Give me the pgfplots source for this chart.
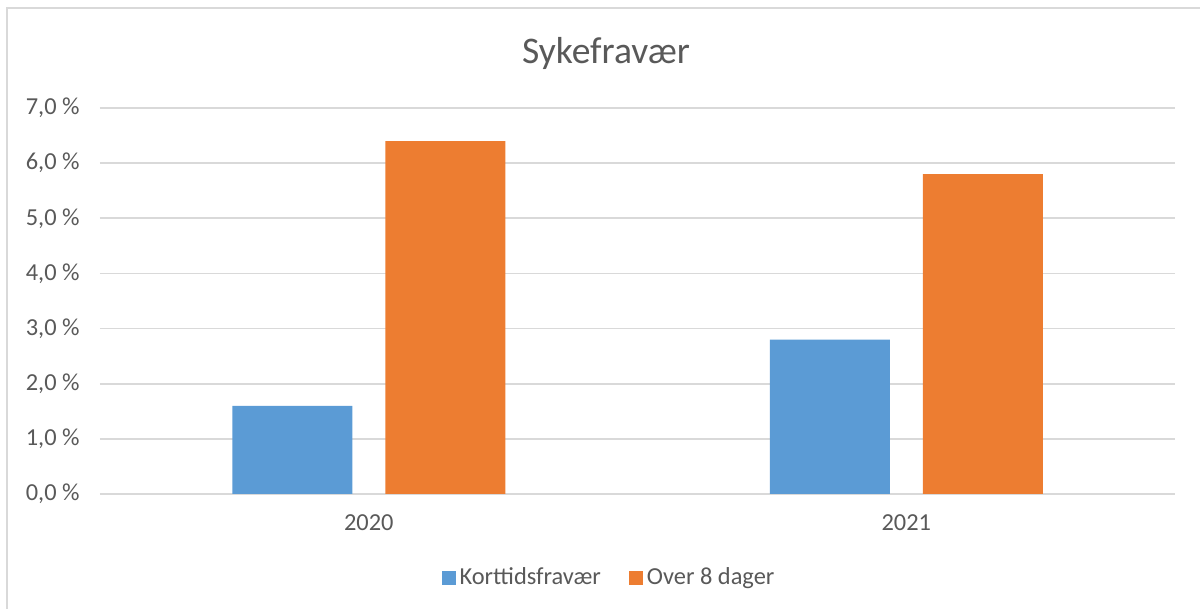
\documentclass[border=0pt]{standalone}
\usepackage{pgfplots}
\pgfplotsset{compat=1.18}
\usepackage{fontspec}
\setmainfont{Carlito}
\definecolor{txt}{HTML}{595959}
\definecolor{gridc}{HTML}{D9D9D9}
\definecolor{cblue}{HTML}{5B9BD5}
\definecolor{corange}{HTML}{ED7D31}
\begin{document}
\begin{tikzpicture}[x=0.5pt,y=0.5pt]
\useasboundingbox (0,0) rectangle (1200,609);
\draw[gridc, line width=1.2pt] (7,-10) -- (7,601) -- (1210,601);
\node[txt, font=\fontsize{18.8}{22}\selectfont] at (606,556) {Sykefravær};
\begin{axis}[
  at={(50pt,57.5pt)}, anchor=south west,
  scale only axis, width=537.5pt, height=193pt,
  xmin=-0.5, xmax=1.5, ymin=0, ymax=7,
  xtick={0,1}, xticklabels={2020,2021},
  ytick={0,1,2,3,4,5,6,7},
  yticklabels={{0,0 \%},{1,0 \%},{2,0 \%},{3,0 \%},{4,0 \%},{5,0 \%},{6,0 \%},{7,0 \%}},
  ymajorgrids, grid style={gridc, line width=0.8pt},
  axis line style={draw=none},
  major tick length=0pt,
  tick label style={txt, font=\fontsize{12.2}{14}\selectfont, inner sep=0pt},
  yticklabel style={anchor=east, xshift=-10pt},
  xticklabel style={anchor=north, yshift=-10pt},
  ybar, bar width=60pt,
  legend columns=2,
  legend style={at={(axis description cs:0.4744,-0.2176)}, anchor=center, draw=none,
    font=\fontsize{12.2}{14}\selectfont, text=txt,
    /tikz/every even column/.append style={column sep=12pt}},
  legend image code/.code={\fill[#1] (0pt,-3.5pt) rectangle (7pt,3.5pt);},
]
\addplot[fill=cblue, draw=none, bar shift=-38.25pt] coordinates {(0,1.6) (1,2.8)};
\addplot[fill=corange, draw=none, bar shift=38.25pt] coordinates {(0,6.4) (1,5.8)};
\legend{Korttidsfravær, Over 8 dager}
\end{axis}
\end{tikzpicture}
\end{document}
